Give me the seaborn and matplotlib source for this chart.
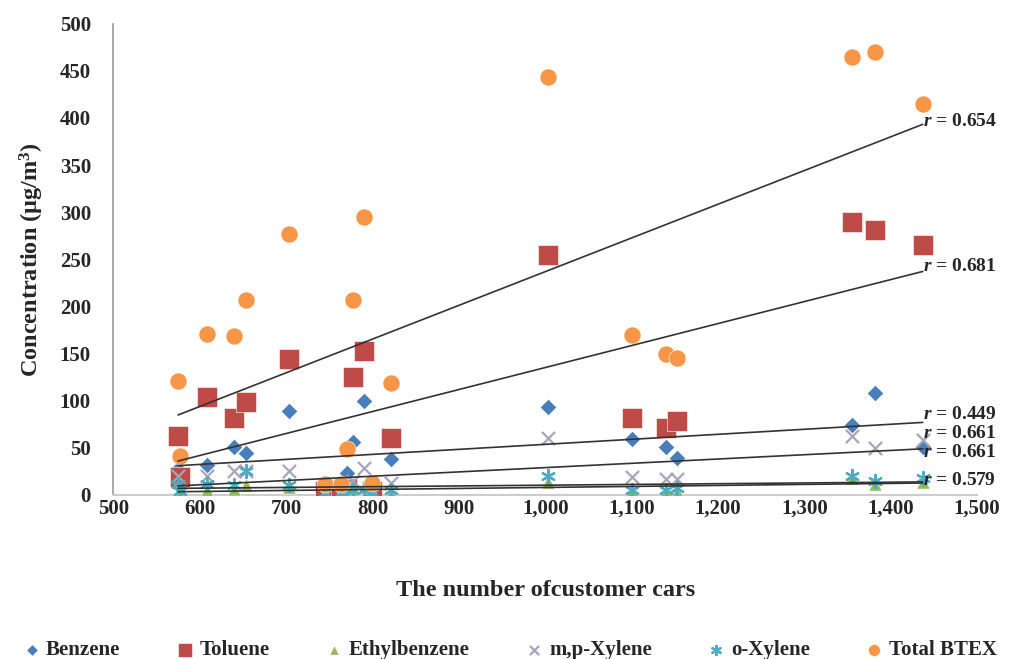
import numpy as np
import pandas as pd
import matplotlib
matplotlib.use("Agg")
import matplotlib.pyplot as plt
import seaborn as sns
from matplotlib.ticker import FuncFormatter, MultipleLocator

# ---- data ----
cars = [575, 577, 609, 640, 654, 704, 745, 764, 771, 777, 790, 800, 822,
        1003, 1101, 1140, 1153, 1355, 1382, 1437]
benzene = [28, 10, 32, 51, 45, 89, 3, 3, 23, 56, 100, 3, 38,
           93, 59, 51, 39, 74, 108, 51]
toluene = [63, 19, 104, 82, 99, 144, 4, 4, 6, 125, 153, 4, 60,
           255, 82, 71, 78, 290, 281, 265]
ethylbenzene = [2, 2, 5, 6, 10, 8, 2, 3, 5, 6, 8, 3, 3,
                14, 5, 5, 4, 18, 12, 14]
mp_xylene = [20, 5, 20, 25, 25, 25, 3, 3, 10, 15, 29, 3, 13,
             60, 19, 17, 17, 62, 50, 58]
o_xylene = [12, 4, 12, 10, 25, 10, 2, 2, 5, 5, 5, 2, 5,
            20, 5, 5, 7, 20, 15, 18]
total_btex = [121, 41, 171, 169, 207, 277, 12, 12, 49, 207, 295, 13, 119,
              443, 170, 149, 145, 465, 470, 415]

series_names = ["Benzene", "Toluene", "Ethylbenzene", "m,p-Xylene", "o-Xylene", "Total BTEX"]
r_labels = ["0.449", "0.681", "0.579", "0.661", "0.661", "0.654"]
r_label_y = [85, 242, 15, 65, 45, 396]

values = [benzene, toluene, ethylbenzene, mp_xylene, o_xylene, total_btex]
colors = ["#4A7EBB", "#BE4B48", "#98B954", "#A9A3B8", "#4BACC6", "#F79646"]
markers = ["D", "s", "^", "x", (6, 2, 0), "o"]
sizes = [70, 190, 90, 90, 90, 150]

sns.set_theme(style="white")
plt.rcParams["font.family"] = ["Liberation Serif", "DejaVu Serif"]
plt.rcParams["font.weight"] = "bold"
plt.rcParams["mathtext.fontset"] = "custom"
plt.rcParams["mathtext.it"] = "Liberation Serif:italic:bold"
plt.rcParams["mathtext.bf"] = "Liberation Serif:bold"
plt.rcParams["mathtext.rm"] = "Liberation Serif:bold"

fig = plt.figure(figsize=(10.2, 6.59), dpi=100)
ax = fig.add_axes([0.111, 0.249, 0.847, 0.715])

df = pd.DataFrame({"cars": cars})
for name, vals, c, m, s in zip(series_names, values, colors, markers, sizes):
    df[name] = vals
    thin = m in ("x", (6, 2, 0))
    sns.scatterplot(data=df, x="cars", y=name, ax=ax, color=c, marker=m, s=s,
                    linewidth=1.6 if thin else 0.4, edgecolor=c if thin else "white",
                    label=name, zorder=3)

for name in series_names:
    sns.regplot(data=df, x="cars", y=name, ax=ax, scatter=False, ci=None,
                truncate=True, line_kws=dict(color="#333333", lw=1.2, zorder=4))

for lab, yv in zip(r_labels, r_label_y):
    ax.text(1437, yv, r"$\mathit{r}$" + " = " + lab, fontsize=14, fontweight="bold",
            ha="left", va="center", zorder=5)

ax.set_xlim(500, 1500)
ax.set_ylim(0, 500)
ax.xaxis.set_major_locator(MultipleLocator(100))
ax.yaxis.set_major_locator(MultipleLocator(50))
ax.xaxis.set_major_formatter(FuncFormatter(lambda v, p: f"{int(v):,}"))
ax.tick_params(axis="both", labelsize=15, length=0)
ax.tick_params(axis="x", pad=3)
ax.tick_params(axis="y", pad=16)
for lbl in ax.get_xticklabels() + ax.get_yticklabels():
    lbl.set_fontweight("bold")

ax.set_xlabel("The number ofcustomer cars", fontsize=17.5, fontweight="bold", labelpad=44)
ax.set_ylabel("Concentration (\u03bcg/m$^\\mathbf{3}$)", fontsize=17.5, fontweight="bold", labelpad=10)

for side in ["top", "right"]:
    ax.spines[side].set_visible(False)
ax.spines["left"].set_color("#999999")
ax.spines["bottom"].set_color("#cccccc")
ax.spines["left"].set_linewidth(1.2)
ax.spines["bottom"].set_linewidth(1.5)

handles, labels = ax.get_legend_handles_labels()
ax.get_legend().remove()
fig.legend(handles, labels, loc="lower center", bbox_to_anchor=(0.497, -0.03), ncol=6,
           frameon=False, handletextpad=0.0, columnspacing=2.4, handlelength=1.4,
           markerscale=0.7, prop=dict(weight="bold", size=15))

fig.savefig("out.png", dpi=100, facecolor="white")
